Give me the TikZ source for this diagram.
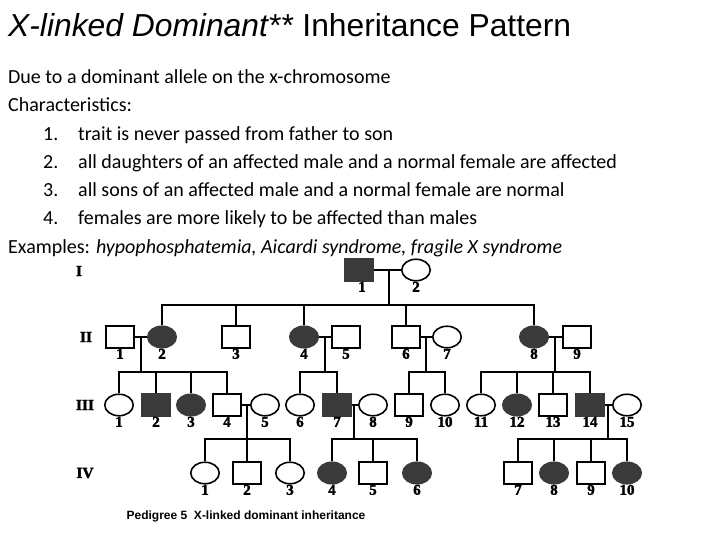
\documentclass[tikz,border=0pt]{standalone}
\usepackage{fontspec}
\setmainfont{Carlito}
\newfontfamily\titlefont{Liberation Sans}
\newfontfamily\pedfont{Liberation Serif}[BoldFeatures={FakeBold=2}]
\usetikzlibrary{shapes.geometric,calc}
\definecolor{affgray}{HTML}{3A3A3A}
\begin{document}
\begin{tikzpicture}[x=1pt,y=-1pt,
  body/.style={anchor=base west, inner sep=0pt, font=\fontsize{20}{24}\selectfont},
  male/.style={draw, line width=1.6pt, rectangle, minimum width=27.5pt, minimum height=21.5pt, inner sep=0pt, label distance=5.5pt},
  female/.style={draw, line width=1.6pt, ellipse, minimum width=28.5pt, minimum height=21.5pt, inner sep=0pt, label distance=5.5pt},
  aff/.style={fill=affgray, draw=affgray},
  lbl/.style={inner sep=0pt, text height=10pt, text depth=0pt, font=\fontsize{15}{15}\pedfont\bfseries},
  gen/.style={inner sep=0pt, font=\fontsize{15.5}{15.5}\pedfont\bfseries},
  link/.style={line width=1.6pt}
]
\useasboundingbox[fill=white] (0,0) rectangle (720,540);

% ---- text ----
\node[anchor=base west, inner sep=0pt, font=\titlefont\fontsize{31.8}{36}\selectfont] (title) at (8,37) {\textit{X-linked Dominant**} Inheritance Pattern};
\node[body] (t1) at (8,83.8) {Due to a dominant allele on the x-chromosome};
\node[body] (t2) at (8,112) {Characteristics:};
\node[body] (n1) at (43,140.2) {1.};
\node[body] (i1) at (78,140.2) {trait is never passed from father to son};
\node[body] (n2) at (43,168.4) {2.};
\node[body] (i2) at (78,168.4) {all daughters of an affected male and a normal female are affected};
\node[body] (n3) at (43,196.6) {3.};
\node[body] (i3) at (78,196.6) {all sons of an affected male and a normal female are normal};
\node[body] (n4) at (43,224.8) {4.};
\node[body] (i4) at (78,224.8) {females are more likely to be affected than males};
\node[body] (t3) at (8,253) {Examples: \textit{hypophosphatemia, Aicardi syndrome, fragile X syndrome}};

% ---- generation labels ----
\node[gen] (gI) at (79,271) {I};
\node[gen] (gII) at (86,337) {II};
\node[gen] (gIII) at (85,405) {III};
\node[gen] (gIV) at (85,473) {IV};

% ---- Generation I ----
\node[male,aff,label={[lbl,xshift=3pt]below:1}] (I1) at (359,270) {};
\node[female,label={[lbl]below:2}] (I2) at (416,270) {};

% ---- Generation II ----
\node[male,label={[lbl]below:1}] (II1) at (120,337) {};
\node[female,aff,label={[lbl]below:2}] (II2) at (162,337) {};
\node[male,label={[lbl]below:3}] (II3) at (236,337) {};
\node[female,aff,label={[lbl]below:4}] (II4) at (304,337) {};
\node[male,label={[lbl]below:5}] (II5) at (346,337) {};
\node[male,label={[lbl]below:6}] (II6) at (406,337) {};
\node[female,label={[lbl]below:7}] (II7) at (447,337) {};
\node[female,aff,label={[lbl]below:8}] (II8) at (534,337) {};
\node[male,label={[lbl]below:9}] (II9) at (577,337) {};

% ---- Generation III ----
\node[female,label={[lbl]below:1}] (III1) at (119,405) {};
\node[male,aff,label={[lbl]below:2}] (III2) at (156,405) {};
\node[female,aff,label={[lbl]below:3}] (III3) at (191,405) {};
\node[male,label={[lbl]below:4}] (III4) at (227,405) {};
\node[female,label={[lbl]below:5}] (III5) at (265,405) {};
\node[female,label={[lbl]below:6}] (III6) at (300,405) {};
\node[male,aff,label={[lbl]below:7}] (III7) at (337,405) {};
\node[female,label={[lbl]below:8}] (III8) at (373,405) {};
\node[male,label={[lbl]below:9}] (III9) at (409,405) {};
\node[female,label={[lbl]below:10}] (III10) at (445,405) {};
\node[female,label={[lbl]below:11}] (III11) at (481,405) {};
\node[female,aff,label={[lbl]below:12}] (III12) at (517,405) {};
\node[male,label={[lbl]below:13}] (III13) at (553,405) {};
\node[male,aff,label={[lbl]below:14}] (III14) at (590,405) {};
\node[female,label={[lbl]below:15}] (III15) at (627,405) {};

% ---- Generation IV ----
\node[female,label={[lbl]below:1}] (IV1) at (205,473) {};
\node[male,label={[lbl]below:2}] (IV2) at (247,473) {};
\node[female,label={[lbl]below:3}] (IV3) at (290,473) {};
\node[female,aff,label={[lbl]below:4}] (IV4) at (332,473) {};
\node[male,label={[lbl]below:5}] (IV5) at (373,473) {};
\node[female,aff,label={[lbl]below:6}] (IV6) at (417,473) {};
\node[male,label={[lbl]below:7}] (IV7) at (518,473) {};
\node[female,aff,label={[lbl]below:8}] (IV8) at (554,473) {};
\node[male,label={[lbl]below:9}] (IV9) at (591,473) {};
\node[female,aff,label={[lbl]below:10}] (IV10) at (627,473) {};

% ---- family coordinates ----
\coordinate (mI) at (389,270);   \coordinate (sI) at (389,305);
\coordinate (mA) at (141,337);   \coordinate (sA) at (141,372);
\coordinate (mB) at (325,337);   \coordinate (sB) at (325,372);
\coordinate (mC) at (426,337);   \coordinate (sC) at (426,372);
\coordinate (mD) at (555,337);   \coordinate (sD) at (555,372);
\coordinate (mE) at (247,405);   \coordinate (sE) at (247,439);
\coordinate (mF) at (354,405);   \coordinate (sF) at (354,439);
\coordinate (mG) at (608,405);   \coordinate (sG) at (608,439);

% ---- connectors ----
\begin{scope}[link]
\draw (I1) -- (I2);
\draw (mI) -- (sI);
\foreach \c in {II2,II3,II4,II6,II8} \draw (sI) -| (\c.north);

\draw (II1) -- (II2);
\draw (mA) -- (sA);
\foreach \c in {III1,III2,III3,III4} \draw (sA) -| (\c.north);

\draw (II4) -- (II5);
\draw (mB) -- (sB);
\foreach \c in {III6,III7} \draw (sB) -| (\c.north);

\draw (II6) -- (II7);
\draw (mC) -- (sC);
\foreach \c in {III9,III10} \draw (sC) -| (\c.north);

\draw (II8) -- (II9);
\draw (mD) -- (sD);
\foreach \c in {III11,III12,III13,III14} \draw (sD) -| (\c.north);

\draw (III4) -- (III5);
\draw (mE) -- (sE);
\foreach \c in {IV1,IV2,IV3} \draw (sE) -| (\c.north);

\draw (III7) -- (III8);
\draw (mF) -- (sF);
\foreach \c in {IV4,IV5,IV6} \draw (sF) -| (\c.north);

\draw (III14) -- (III15);
\draw (mG) -- (sG);
\foreach \c in {IV7,IV8,IV9,IV10} \draw (sG) -| (\c.north);
\end{scope}

% ---- caption ----
\node[inner sep=0pt, font=\titlefont\bfseries\fontsize{12}{12}\selectfont] (cap) at (246,516) {Pedigree 5\ \ X-linked dominant inheritance};
\end{tikzpicture}
\end{document}
